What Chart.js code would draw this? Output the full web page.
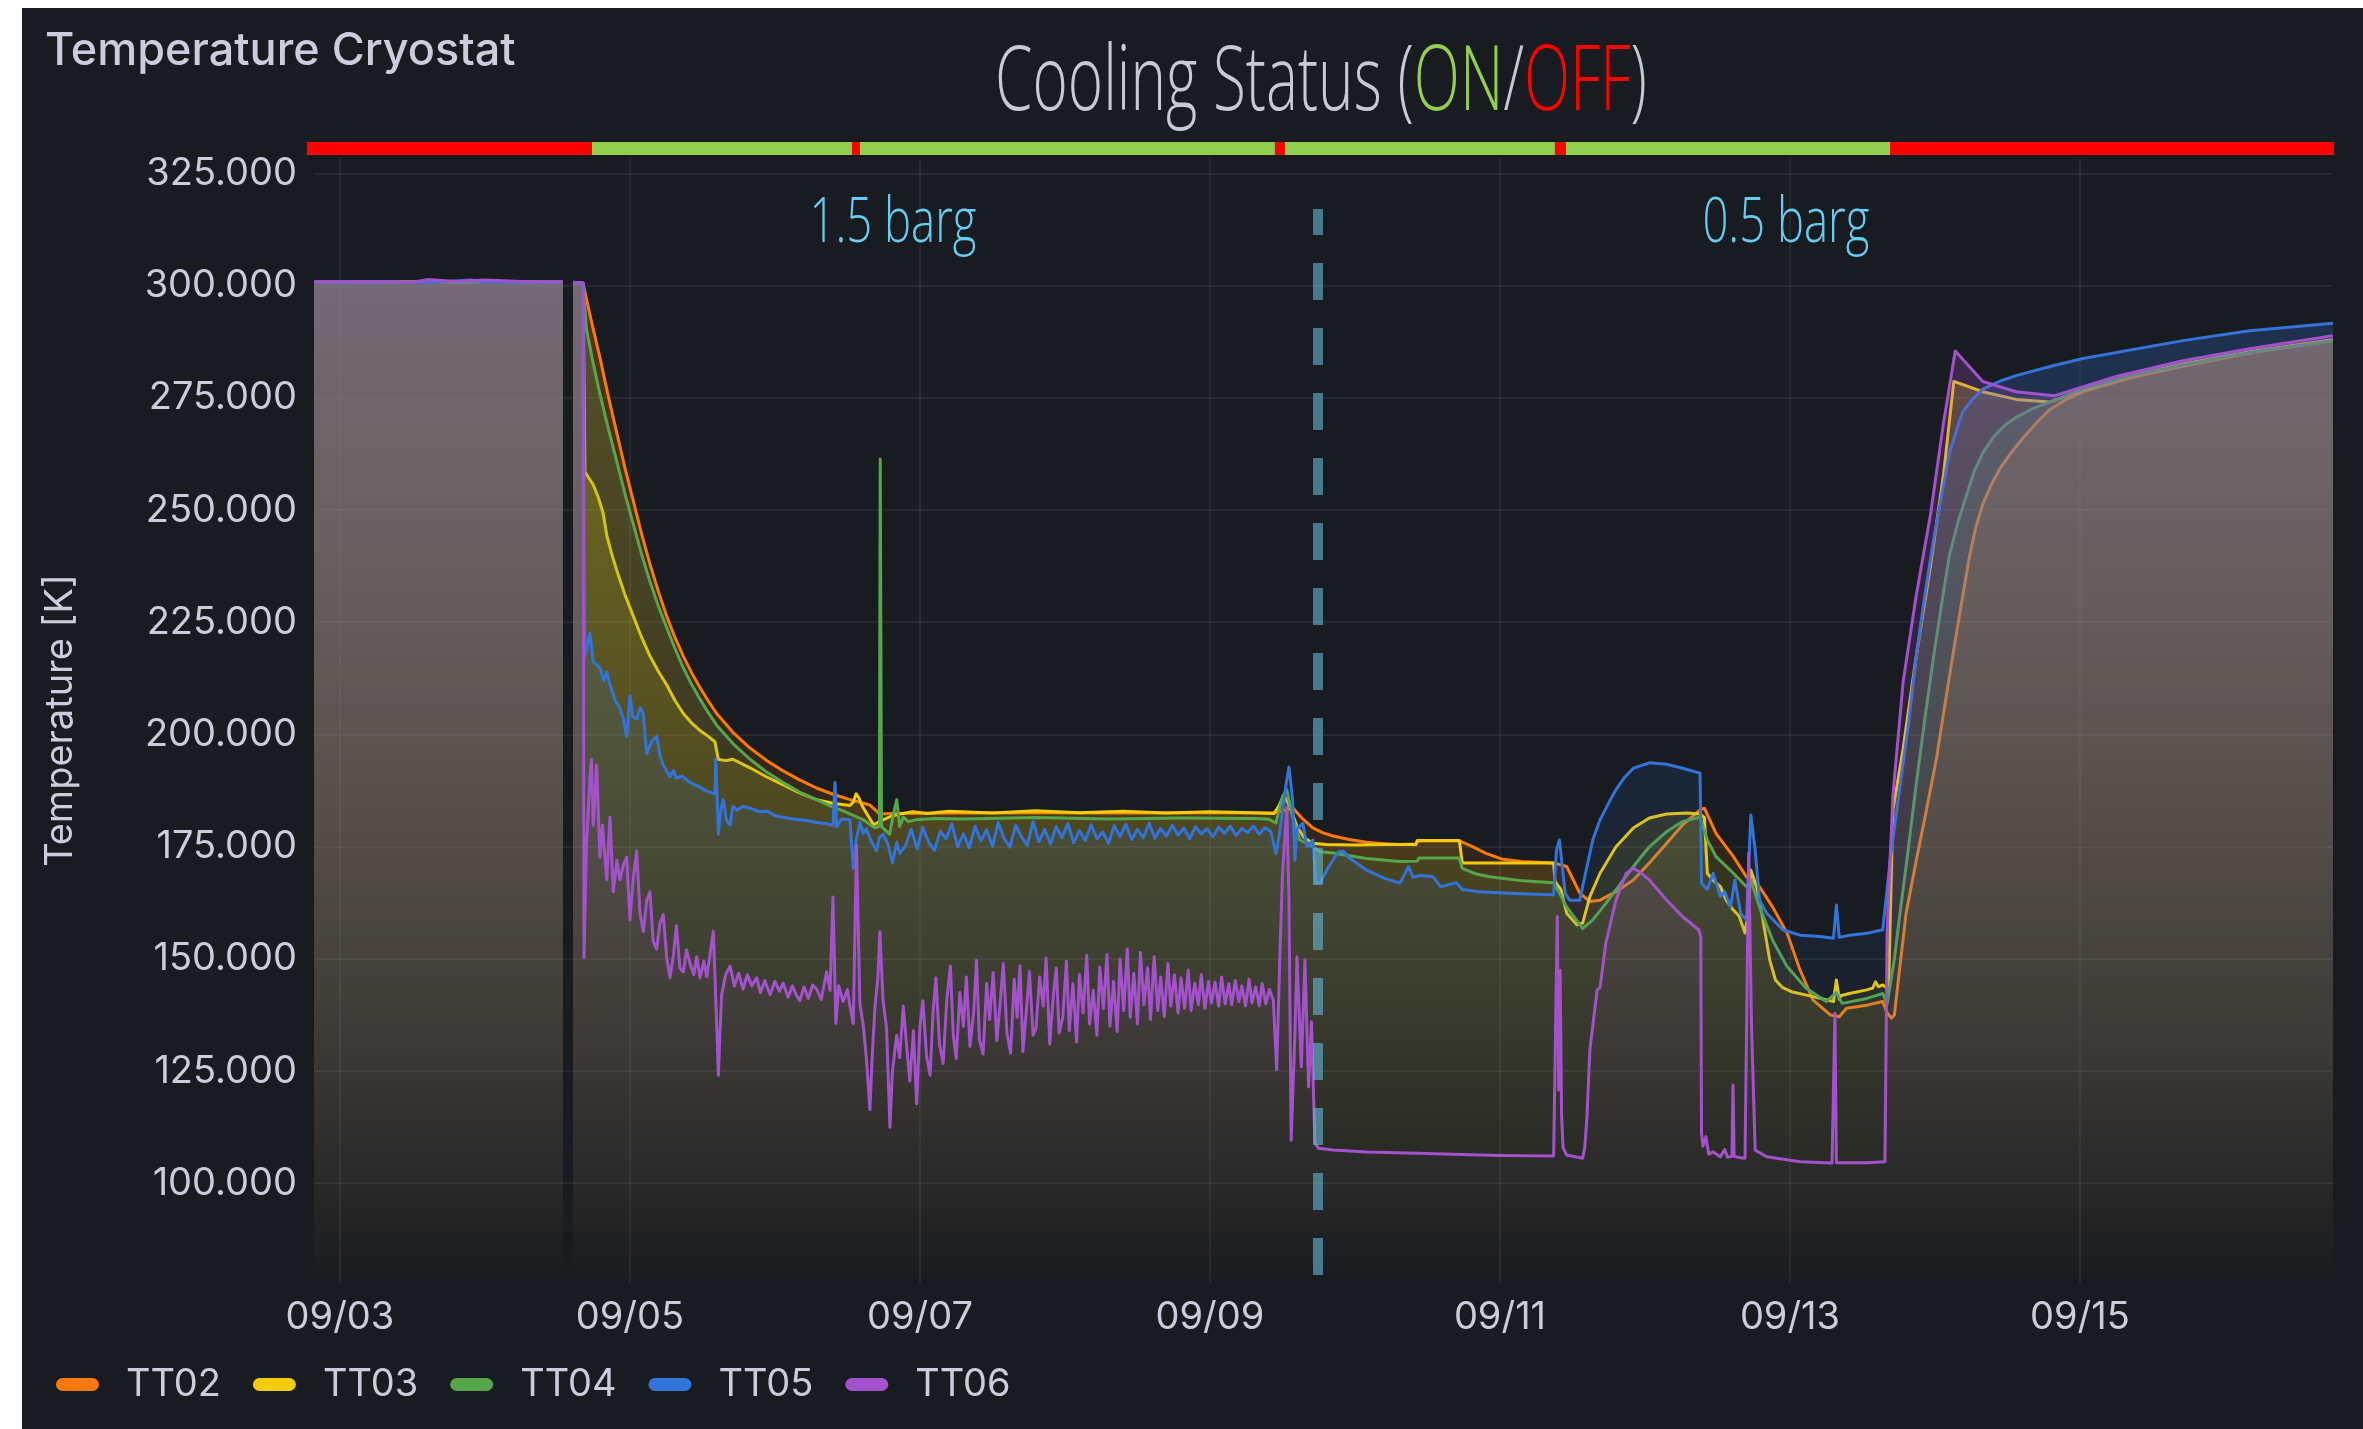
<!DOCTYPE html>
<html lang="en">
<head>
<meta charset="UTF-8">
<title>Temperature Cryostat</title>
<script src="https://cdn.jsdelivr.net/npm/chart.js"></script>
<style>
  html, body { margin: 0; padding: 0; background: #ffffff; }
  #panel { position: absolute; left: 22px; top: 8px; width: 2341px; height: 1421px; background: #181b1f; }
</style>
</head>
<body>
<div id="panel"><canvas id="chart" width="2341" height="1421"></canvas></div>
<script>
// x values are days of September (fractional), y values are Kelvin
const seriesNames = ['TT02', 'TT03', 'TT04', 'TT05', 'TT06'];

const TT02 = [[2.821,300.8],[3.3,300.9],[3.8,300.8],[4.3,300.9],[4.538,300.8],[4.57,null],
  [4.607,300.7],[4.676,300.6],[4.735,292.0],[4.793,284.0],[4.85,275.5],[4.908,267.4],[4.965,259.5],[5.023,252.1],[5.08,244.8],
  [5.138,238.0],[5.195,232.0],[5.253,226.4],[5.31,221.7],[5.368,217.5],[5.425,213.8],[5.483,210.5],[5.54,207.5],[5.598,204.7],
  [5.71,200.5],[5.828,197.0],[5.94,194.3],[6.057,191.9],[6.17,189.9],[6.287,188.1],[6.40,186.7],[6.517,185.5],[6.59,184.9],
  [6.655,184.3],[6.724,182.3],[6.80,182.4],[7.2,182.5],[7.8,182.6],[8.4,182.5],[9.0,182.6],[9.44,182.5],[9.50,183.0],[9.574,183.6],
  [9.64,181.2],[9.71,179.2],[9.78,178.1],[9.85,177.4],[9.96,176.6],[10.08,176.0],[10.2,175.7],[10.31,175.5],[10.42,175.6],
  [10.43,176.3],[10.72,176.3],[10.80,175.2],[10.90,173.6],[11.02,172.2],[11.15,171.7],[11.37,171.4],[11.46,170.6],[11.55,164.7],
  [11.62,162.8],[11.69,163.1],[11.80,165.0],[11.92,167.6],[12.03,171.4],[12.15,175.8],[12.26,179.9],[12.38,183.2],[12.41,183.6],
  [12.49,178.0],[12.61,172.8],[12.70,168.3],[12.79,166.1],[12.88,161.6],[12.98,155.8],[13.07,147.5],[13.16,140.8],[13.28,137.5],
  [13.34,137.1],[13.39,139.0],[13.53,139.7],[13.64,140.5],[13.67,138.0],[13.70,136.8],[13.72,137.5],[13.75,146.0],[13.80,160.0],
  [13.87,171.8],[13.94,183.0],[14.01,194.6],[14.08,209.0],[14.15,223.0],[14.20,232.5],[14.24,240.0],[14.28,246.0],[14.33,251.4],
  [14.39,255.8],[14.45,259.4],[14.53,263.0],[14.61,266.2],[14.70,269.5],[14.79,272.4],[14.90,274.6],[15.02,276.4],[15.35,279.5],
  [15.71,282.1],[16.2,285.2],[16.745,287.8]];

const TT03 = [[2.821,300.8],[3.3,300.8],[3.8,300.9],[4.3,300.8],[4.538,300.8],[4.57,null],
  [4.607,300.7],[4.676,300.6],[4.69,258.5],[4.745,255.8],[4.78,253.0],[4.814,249.5],[4.84,244.4],[4.875,240.2],[4.908,236.7],
  [4.965,231.2],[5.023,226.4],[5.08,221.7],[5.138,217.5],[5.195,214.1],[5.253,211.1],[5.31,207.6],[5.368,204.7],[5.425,202.6],
  [5.483,200.9],[5.54,199.6],[5.586,198.4],[5.609,194.5],[5.66,194.2],[5.71,194.5],[5.828,192.6],[5.94,190.6],[6.057,188.8],
  [6.17,187.0],[6.287,185.5],[6.40,184.7],[6.517,184.2],[6.54,185.0],[6.56,186.8],[6.58,185.8],[6.60,184.2],[6.64,182.0],
  [6.68,179.9],[6.745,181.0],[6.80,181.8],[6.86,182.3],[6.95,182.8],[7.05,182.4],[7.2,182.9],[7.5,182.5],[7.8,183.0],[8.1,182.6],
  [8.4,182.9],[8.7,182.5],[9.0,182.8],[9.3,182.6],[9.44,182.4],[9.47,183.8],[9.51,186.5],[9.55,184.0],[9.60,179.5],[9.65,177.0],
  [9.71,175.8],[9.8,175.5],[10.0,175.4],[10.2,175.5],[10.42,175.5],[10.43,176.4],[10.72,176.4],[10.74,171.4],[11.0,171.4],
  [11.37,171.4],[11.38,167.2],[11.42,165.5],[11.46,160.2],[11.53,157.6],[11.57,158.0],[11.62,163.9],[11.69,169.1],[11.80,175.0],
  [11.92,179.2],[12.03,181.4],[12.15,182.3],[12.29,182.5],[12.38,182.3],[12.41,181.5],[12.43,169.1],[12.47,167.5],[12.52,166.1],
  [12.56,163.1],[12.61,160.9],[12.65,159.5],[12.69,155.8],[12.71,160.0],[12.73,169.8],[12.77,166.1],[12.81,159.4],[12.86,149.8],
  [12.90,145.3],[12.95,143.6],[13.01,142.7],[13.16,141.6],[13.30,140.5],[13.32,145.3],[13.34,141.0],[13.35,141.8],[13.41,142.3],
  [13.53,143.1],[13.57,143.5],[13.59,144.9],[13.61,143.8],[13.64,144.2],[13.68,143.3],[13.71,183.2],[13.78,196.8],[13.87,217.3],
  [13.97,237.8],[14.06,258.2],[14.13,278.7],[14.33,276.4],[14.56,274.7],[14.79,274.1],[15.02,276.8],[15.35,280.0],[15.71,282.6],
  [16.2,285.5],[16.745,288.0]];

const TT04 = [[2.821,300.7],[3.3,300.8],[3.8,300.8],[4.3,300.7],[4.538,300.8],[4.57,null],
  [4.607,300.7],[4.676,300.6],[4.70,290.4],[4.745,283.0],[4.79,276.3],[4.85,268.3],[4.908,261.0],[4.965,253.7],[5.023,246.9],
  [5.08,240.2],[5.138,234.1],[5.195,228.7],[5.253,223.9],[5.31,219.2],[5.368,214.9],[5.425,211.2],[5.483,207.9],[5.54,204.9],
  [5.598,202.1],[5.71,198.0],[5.828,194.5],[5.94,191.7],[6.057,189.3],[6.17,187.2],[6.287,185.5],[6.38,184.1],[6.47,183.0],
  [6.54,182.0],[6.61,181.0],[6.69,179.2],[6.72,179.6],[6.726,261.4],[6.730,261.4],[6.735,179.5],[6.79,177.8],[6.815,182.0],
  [6.84,185.5],[6.86,179.5],[6.885,181.6],[6.92,180.6],[6.97,181.0],[7.1,181.3],[7.3,181.2],[7.8,181.5],[8.3,181.2],[8.8,181.4],
  [9.3,181.3],[9.40,181.2],[9.455,180.3],[9.50,186.2],[9.53,187.7],[9.57,181.7],[9.62,176.5],[9.71,175.0],[9.76,173.9],[9.85,173.6],
  [10.08,172.4],[10.31,171.7],[10.43,171.8],[10.44,172.5],[10.72,172.5],[10.74,170.2],[10.83,169.0],[10.93,168.3],[11.16,167.4],
  [11.37,167.0],[11.46,161.6],[11.57,156.8],[11.64,158.7],[11.73,162.4],[11.92,170.6],[12.03,175.0],[12.15,178.4],[12.26,180.6],
  [12.38,181.6],[12.43,176.5],[12.49,172.8],[12.61,169.1],[12.70,166.1],[12.73,167.5],[12.79,161.6],[12.88,154.2],[12.98,148.3],
  [13.11,143.5],[13.25,140.5],[13.32,142.5],[13.36,140.1],[13.53,141.2],[13.64,142.3],[13.67,140.0],[13.72,150.0],[13.76,160.5],
  [13.81,173.0],[13.87,188.8],[13.93,203.5],[13.99,217.3],[14.05,230.0],[14.10,240.0],[14.16,247.5],[14.22,253.6],[14.27,258.6],
  [14.33,262.8],[14.40,266.2],[14.48,268.9],[14.56,270.7],[14.67,272.6],[14.79,274.1],[15.02,277.0],[15.35,280.0],[15.71,282.4],
  [16.2,285.3],[16.745,287.8]];

const TT05 = [[2.821,300.8],[3.3,300.9],[3.6,300.7],[3.9,301.3],[4.0,300.8],[4.3,300.8],[4.538,300.8],[4.57,null],
  [4.607,300.7],[4.676,300.6],[4.69,217.5],[4.724,222.6],[4.747,216.2],[4.793,214.9],[4.82,212.0],[4.84,214.0],[4.862,211.1],
  [4.9,207.5],[4.93,206.0],[4.955,203.5],[4.977,199.6],[5.0,208.6],[5.02,204.0],[5.046,203.5],[5.07,206.0],[5.092,204.7],
  [5.115,195.7],[5.15,198.5],[5.184,199.6],[5.21,195.0],[5.23,193.2],[5.276,190.6],[5.30,192.0],[5.32,190.3],[5.36,190.8],
  [5.414,189.3],[5.47,188.5],[5.529,187.4],[5.586,186.8],[5.592,194.5],[5.61,177.8],[5.625,183.0],[5.644,185.5],[5.665,181.0],
  [5.69,179.8],[5.71,184.0],[5.74,183.2],[5.78,184.0],[5.828,183.6],[5.89,182.8],[5.95,182.9],[6.0,181.9],[6.057,181.6],
  [6.12,181.2],[6.17,181.0],[6.23,180.8],[6.287,180.4],[6.35,180.2],[6.40,179.8],[6.414,189.3],[6.425,179.5],[6.46,181.2],
  [6.517,181.0],[6.54,170.2],[6.56,176.5],[6.586,180.4],[6.61,178.0],[6.63,179.0],[6.66,176.5],[6.70,174.1],[6.72,177.0],
  [6.745,177.8],[6.78,175.5],[6.81,171.4],[6.84,176.0],[6.86,173.5],
  [6.90,175.2],[6.94,178.9],[6.98,174.5],[7.02,179.3],[7.06,176.0],[7.10,174.2],[7.14,178.5],[7.18,176.8],[7.22,180.1],[7.26,175.0],
  [7.30,177.9],[7.34,174.8],[7.38,179.6],[7.42,176.3],[7.46,178.8],[7.50,175.1],[7.54,180.4],[7.58,176.9],[7.62,174.9],[7.66,179.8],
  [7.70,177.2],[7.74,175.3],[7.78,180.6],[7.82,176.1],[7.86,178.9],[7.90,175.6],[7.94,179.5],[7.98,177.0],[8.02,180.2],[8.06,175.9],
  [8.10,178.6],[8.14,176.4],[8.18,179.9],[8.22,176.8],[8.26,178.3],[8.30,175.8],[8.34,179.7],[8.38,177.3],[8.42,180.0],[8.46,176.6],
  [8.50,178.9],[8.54,177.0],[8.58,180.3],[8.62,176.9],[8.66,179.1],[8.70,177.4],[8.74,179.8],[8.78,177.6],[8.82,179.2],[8.86,176.8],
  [8.90,179.5],[8.94,177.9],[8.98,179.0],[9.02,177.2],[9.06,179.4],[9.10,178.0],[9.14,179.6],[9.18,177.5],[9.22,179.1],[9.26,178.2],
  [9.30,179.6],[9.34,177.8],[9.38,179.3],[9.42,178.4],
  [9.455,173.5],[9.48,178.0],[9.50,183.0],[9.525,189.0],[9.545,192.8],[9.57,185.4],[9.586,172.0],[9.60,179.0],[9.64,180.2],
  [9.67,175.0],[9.71,176.5],[9.73,166.9],[9.76,167.0],[9.82,170.6],[9.885,173.9],[9.92,174.0],[9.96,172.5],[10.08,169.8],
  [10.2,168.0],[10.31,166.9],[10.37,170.6],[10.40,168.2],[10.45,168.6],[10.54,168.3],[10.59,166.1],[10.70,167.0],[10.74,165.5],
  [10.85,165.0],[11.02,164.7],[11.20,164.5],[11.37,164.3],[11.39,174.3],[11.41,176.5],[11.43,170.5],[11.45,164.6],[11.48,163.1],
  [11.55,163.1],[11.60,170.6],[11.64,176.5],[11.69,181.0],[11.76,185.4],[11.80,187.7],[11.86,190.5],[11.92,192.5],[12.03,193.7],
  [12.15,193.4],[12.26,192.5],[12.38,191.4],[12.39,166.9],[12.43,165.5],[12.47,169.1],[12.52,163.9],[12.55,165.0],[12.59,161.6],
  [12.62,167.6],[12.66,160.2],[12.70,158.7],[12.73,182.1],[12.76,174.3],[12.79,163.1],[12.84,160.2],[12.95,156.5],[13.07,155.3],
  [13.21,155.0],[13.30,154.6],[13.32,162.0],[13.34,154.8],[13.41,155.3],[13.53,155.7],[13.64,156.5],[13.69,171.8],[13.76,188.8],
  [13.82,203.0],[13.87,217.3],[13.93,231.0],[13.99,243.4],[14.05,254.0],[14.10,262.8],[14.15,268.0],[14.19,271.9],[14.26,274.8],
  [14.33,277.0],[14.45,278.8],[14.56,280.0],[14.80,282.1],[15.02,283.8],[15.71,287.8],[16.17,290.0],[16.745,291.7]];

const TT06 = [[2.821,300.9],[3.2,301.0],[3.5,300.8],[3.6,301.4],[3.8,301.0],[4.0,301.3],[4.3,300.9],[4.538,300.9],[4.57,null],
  [4.607,300.8],[4.676,300.7],[4.683,150.3],[4.70,175.3],[4.724,190.6],[4.734,194.5],[4.747,179.8],[4.77,193.2],[4.793,172.7],
  [4.81,179.8],[4.84,167.6],[4.862,181.6],[4.885,165.0],[4.91,172.0],[4.93,167.6],[4.955,171.0],[4.977,172.7],[5.0,158.7],
  [5.023,168.0],[5.046,174.1],[5.07,160.0],[5.092,156.1],[5.115,163.0],[5.138,165.0],[5.16,154.0],[5.184,152.2],[5.207,158.0],
  [5.23,159.9],[5.253,150.5],[5.276,145.8],[5.30,151.0],[5.32,157.4],[5.345,148.0],[5.368,147.1],[5.39,152.0],[5.415,149.0],
  [5.44,146.5],[5.46,150.5],[5.483,145.8],[5.51,149.5],[5.53,146.0],[5.552,151.0],[5.575,156.1],[5.598,135.6],[5.61,124.1],
  [5.62,133.0],[5.632,142.0],[5.66,146.5],[5.69,148.4],[5.72,144.0],[5.75,146.8],[5.78,143.3],[5.81,146.5],[5.84,144.0],
  [5.874,145.8],[5.90,142.5],[5.93,145.2],[5.966,142.0],[6.0,145.0],[6.03,142.8],[6.057,144.6],[6.09,141.5],[6.12,144.0],
  [6.15,141.8],[6.172,140.7],[6.20,143.8],[6.23,141.2],[6.26,144.2],[6.287,143.3],[6.32,141.0],[6.356,147.1],[6.38,143.0],
  [6.40,163.8],[6.42,135.6],[6.44,144.0],[6.47,140.5],[6.50,143.2],[6.517,139.5],[6.54,135.6],[6.562,175.3],[6.586,140.1],
  [6.61,135.0],[6.63,128.0],[6.655,116.4],[6.67,128.0],[6.69,139.5],[6.71,146.0],[6.724,156.1],[6.745,141.0],[6.77,134.4],
  [6.793,112.5],[6.81,125.0],[6.84,133.0],[6.86,128.0],[6.885,139.5],[6.91,130.0],[6.93,122.8],[6.955,134.0],[6.977,117.7],
  [7.0,135.0],[7.02,140.7],[7.045,128.5],[7.07,124.1],[7.09,138.0],[7.11,145.8],[7.135,131.0],[7.16,126.7],[7.185,141.0],
  [7.21,148.4],[7.23,133.0],[7.25,127.8],[7.275,142.5],[7.30,135.0],[7.32,146.0],[7.345,130.5],[7.37,138.0],[7.39,149.7],
  [7.41,132.0],[7.435,128.8],[7.46,144.5],[7.48,136.5],[7.505,147.0],[7.53,131.8],[7.555,141.0],[7.575,149.0],[7.60,133.5],
  [7.625,129.0],[7.65,145.5],[7.67,137.0],[7.69,148.5],[7.71,129.3],[7.735,139.0],[7.755,147.2],[7.78,133.0],[7.80,134.4],
  [7.825,146.0],[7.85,139.5],[7.87,150.2],[7.895,131.0],[7.92,142.0],[7.94,148.0],[7.96,133.5],[7.985,137.0],[8.01,149.5],
  [8.03,134.0],[8.055,144.5],[8.08,131.5],[8.10,146.5],[8.125,138.0],[8.15,150.8],[8.17,135.5],[8.195,143.0],[8.22,133.0],
  [8.24,148.2],[8.265,139.0],[8.29,151.0],[8.31,135.0],[8.335,145.0],[8.36,133.8],[8.38,150.0],[8.405,138.5],[8.43,152.2],
  [8.45,137.0],[8.475,146.8],[8.50,135.5],[8.52,151.5],[8.545,139.8],[8.57,148.0],[8.59,136.5],[8.615,150.5],[8.64,138.5],
  [8.66,146.0],[8.685,137.2],[8.71,149.0],[8.73,139.5],[8.755,146.5],[8.78,138.0],[8.80,145.8],[8.825,139.0],[8.85,147.5],
  [8.87,138.5],[8.895,144.6],[8.92,139.8],[8.94,146.5],[8.965,139.0],[8.99,145.0],[9.01,140.2],[9.035,144.8],[9.06,139.5],
  [9.08,146.0],[9.105,140.0],[9.13,144.5],[9.15,139.8],[9.175,145.2],[9.20,140.5],[9.22,144.0],[9.245,139.5],[9.27,145.5],
  [9.29,140.2],[9.315,143.8],[9.34,139.6],[9.36,144.5],[9.385,140.0],[9.41,143.2],[9.437,140.8],[9.46,125.3],[9.48,148.3],
  [9.50,169.1],[9.53,183.9],[9.545,163.1],[9.56,109.6],[9.586,133.4],[9.60,150.5],[9.63,126.0],[9.655,149.8],[9.68,121.5],
  [9.70,136.0],[9.724,108.9],[9.75,107.8],[9.85,107.4],[10.08,107.0],[10.43,106.7],[10.74,106.4],[11.0,106.2],[11.37,106.1],
  [11.395,159.4],[11.405,120.8],[11.415,147.5],[11.425,115.0],[11.435,108.0],[11.46,106.3],[11.57,105.6],[11.585,108.0],
  [11.60,114.8],[11.62,129.7],[11.67,143.1],[11.69,143.6],[11.73,153.5],[11.80,163.1],[11.87,169.1],[11.92,170.2],[11.96,169.5],
  [12.03,167.6],[12.15,163.1],[12.26,159.4],[12.37,156.5],[12.385,155.0],[12.39,111.1],[12.40,108.3],[12.42,110.4],[12.44,106.5],
  [12.47,107.0],[12.52,105.9],[12.55,107.5],[12.57,105.8],[12.60,106.0],[12.607,121.9],[12.615,106.0],[12.66,105.7],[12.69,105.6],
  [12.715,173.5],[12.735,135.0],[12.76,107.4],[12.84,105.9],[13.07,104.8],[13.29,104.5],[13.31,137.9],[13.32,104.6],[13.53,104.6],
  [13.655,104.8],[13.67,155.9],[13.69,171.8],[13.71,186.5],[13.78,211.6],[13.87,230.9],[13.97,249.2],[14.06,269.7],[14.14,285.5],
  [14.33,278.7],[14.56,276.4],[14.82,275.5],[15.25,279.8],[15.71,283.3],[16.17,286.0],[16.745,288.9]];

// axis ticks
const xTickDays = [3, 5, 7, 9, 11, 13, 15];
const xTickLabels = ['09/03', '09/05', '09/07', '09/09', '09/11', '09/13', '09/15'];
const yTickValues = [100, 125, 150, 175, 200, 225, 250, 275, 300, 325];

// cooling status timeline (edges in days) and state of each interval
const statusEdges = [2.772, 4.738, 6.531, 6.586, 9.448, 9.517, 11.379, 11.455, 13.690, 16.752];
const statusState = ['OFF', 'ON', 'OFF', 'ON', 'OFF', 'ON', 'OFF', 'ON', 'OFF'];

// pressure annotations
const pressureLabels = ['1.5 barg', '0.5 barg'];
const pressureLabelDays = [6.814, 12.972];
const pressureSwitchDay = 9.745;

const seriesColors = ['#FF780A', '#F2CC0C', '#56A64B', '#3274D9', '#A352CC'];
const textColor = '#CCCCDC';

function rgba(hex, a) {
  const n = parseInt(hex.slice(1), 16);
  return 'rgba(' + (n >> 16) + ',' + ((n >> 8) & 255) + ',' + (n & 255) + ',' + a + ')';
}

function fadeFill(hex) {
  return function (context) {
    const chart = context.chart;
    const area = chart.chartArea;
    if (!area) return 'transparent';
    const g = chart.ctx.createLinearGradient(0, area.top, 0, area.bottom);
    g.addColorStop(0, rgba(hex, 0.30));
    g.addColorStop(1, rgba(hex, 0.0));
    return g;
  };
}

const allSeries = [TT02, TT03, TT04, TT05, TT06];

const datasets = allSeries.map(function (s, i) {
  return {
    label: seriesNames[i],
    data: s.map(p => ({ x: p[0], y: p[1] })),
    borderColor: seriesColors[i],
    backgroundColor: fadeFill(seriesColors[i]),
    borderWidth: 3,
    borderJoinStyle: 'round',
    pointRadius: 0,
    tension: 0,
    fill: 'start',
    spanGaps: false,
    order: allSeries.length - 1 - i
  };
});

// draws the status bar, headings, pressure marks and the legend
const decorPlugin = {
  id: 'decor',
  afterDatasetsDraw(chart) {
    const ctx = chart.ctx;
    const xs = chart.scales.x;
    const area = chart.chartArea;
    const px = xs.getPixelForValue(pressureSwitchDay);
    ctx.save();
    ctx.strokeStyle = 'rgba(100,185,215,0.6)';
    ctx.lineWidth = 10;
    ctx.setLineDash([37, 28]);
    ctx.lineDashOffset = 11;
    ctx.beginPath();
    ctx.moveTo(px, 201);
    ctx.lineTo(px, area.bottom - 3);
    ctx.stroke();
    ctx.restore();
  },
  afterDraw(chart) {
    const ctx = chart.ctx;
    const xs = chart.scales.x;
    ctx.save();

    // status bar
    for (let i = 0; i < statusState.length; i++) {
      const x0 = xs.getPixelForValue(statusEdges[i]);
      const x1 = xs.getPixelForValue(statusEdges[i + 1]);
      ctx.fillStyle = statusState[i] === 'ON' ? '#93CF4E' : '#FF0000';
      ctx.fillRect(x0, 134, x1 - x0, 13);
    }

    // panel title
    ctx.fillStyle = textColor;
    ctx.font = '500 45px Inter';
    ctx.textBaseline = 'alphabetic';
    ctx.textAlign = 'left';
    ctx.fillText('Temperature Cryostat', 23, 57);

    // cooling status heading (condensed)
    const parts = [['Cooling Status (', '#C9C9D2'], ['ON', '#93CF4E'], ['/', '#C9C9D2'], ['OFF', '#FF0000'], [')', '#C9C9D2']];
    ctx.font = '300 91px "Open Sans"';
    let natural = 0;
    parts.forEach(p => { natural += ctx.measureText(p[0]).width; });
    const sx = 652 / natural;
    ctx.save();
    ctx.translate(973, 102);
    ctx.scale(sx, 1);
    let cx = 0;
    parts.forEach(p => {
      ctx.fillStyle = p[1];
      ctx.fillText(p[0], cx, 0);
      cx += ctx.measureText(p[0]).width;
    });
    ctx.restore();

    // pressure labels
    ctx.font = '300 63px "Open Sans"';
    const psx = 167 / ctx.measureText('0.5 barg').width;
    pressureLabels.forEach((t, i) => {
      const w = ctx.measureText(t).width * psx;
      ctx.save();
      ctx.translate(xs.getPixelForValue(pressureLabelDays[i]) - w / 2, 234);
      ctx.scale(psx, 1);
      ctx.fillStyle = '#66CCF2';
      ctx.fillText(t, 0, 0);
      ctx.restore();
    });

    // legend
    ctx.font = '38px Inter';
    ctx.textBaseline = 'middle';
    let lx = 34;
    const cy = 1376.5;
    chart.data.datasets.forEach(ds => {
      ctx.fillStyle = ds.borderColor;
      ctx.beginPath();
      ctx.roundRect(lx, cy - 6.5, 43, 13, 6.5);
      ctx.fill();
      ctx.fillStyle = textColor;
      ctx.fillText(ds.label, lx + 70, cy);
      lx += 70 + ctx.measureText(ds.label).width + 32;
    });
    ctx.restore();
  }
};

new Chart(document.getElementById('chart').getContext('2d'), {
  type: 'line',
  data: { datasets: datasets },
  plugins: [decorPlugin],
  options: {
    responsive: false,
    devicePixelRatio: 1,
    animation: false,
    layout: { padding: { left: 0, right: 30, top: 150, bottom: 66 } },
    plugins: {
      legend: { display: false },
      tooltip: { enabled: false }
    },
    scales: {
      x: {
        type: 'linear',
        min: 2.821,
        max: 16.745,
        afterBuildTicks: axis => { axis.ticks = xTickDays.map(v => ({ value: v })); },
        afterFit: axis => { axis.height = 80; },
        ticks: {
          callback: v => xTickLabels[xTickDays.indexOf(v)],
          color: textColor,
          font: { family: 'Inter', size: 38 },
          padding: 12,
          maxRotation: 0,
          autoSkip: false
        },
        grid: { color: 'rgba(204,204,220,0.08)', lineWidth: 2, drawTicks: false },
        border: { display: false }
      },
      y: {
        min: 77.78,
        max: 328.5,
        afterBuildTicks: axis => { axis.ticks = yTickValues.map(v => ({ value: v })); },
        afterFit: axis => { axis.width = 292; },
        ticks: {
          callback: v => v.toFixed(3),
          color: textColor,
          font: { family: 'Inter', size: 38 },
          padding: 17
        },
        grid: { color: 'rgba(204,204,220,0.08)', lineWidth: 2, drawTicks: false },
        border: { display: false },
        title: {
          display: true,
          text: 'Temperature [K]',
          color: textColor,
          font: { family: 'Inter', size: 38, lineHeight: 1.2 },
          padding: { top: 16, bottom: 0 }
        }
      }
    }
  }
});
</script>
</body>
</html>
